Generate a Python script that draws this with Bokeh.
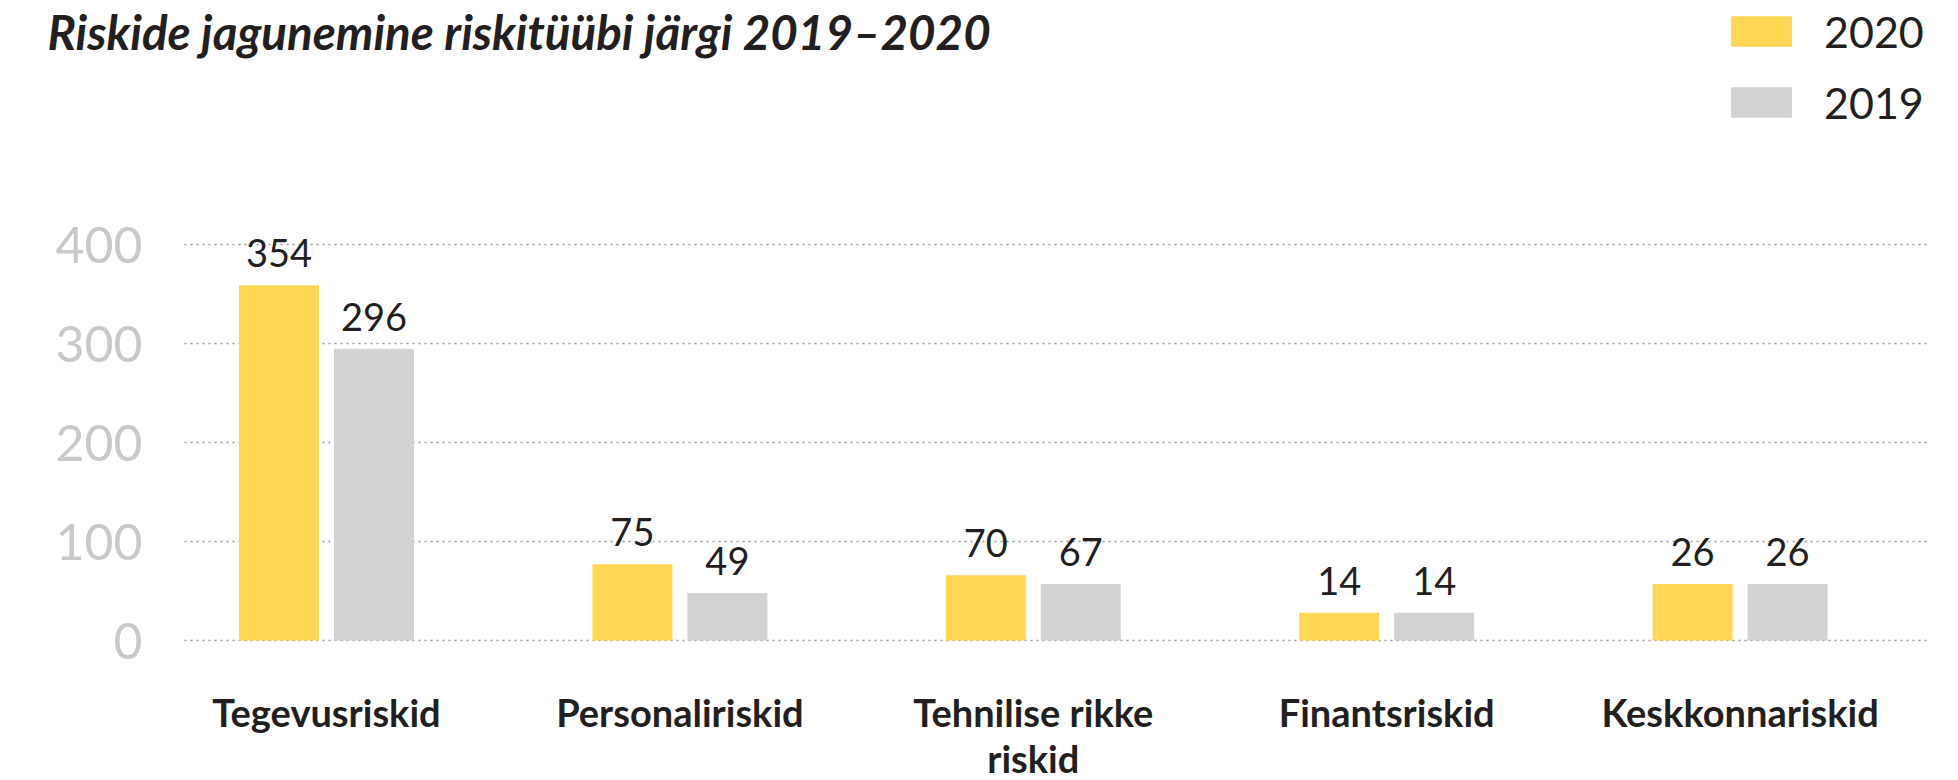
from bokeh.plotting import figure
from bokeh.models import (ColumnDataSource, Range1d, FixedTicker,
                          Label, Legend, LegendItem)
from bokeh.transform import dodge
from bokeh.core.properties import value
from bokeh.embed import file_html
from bokeh.resources import INLINE

# ---- data -------------------------------------------------------------
categories = ["Tegevusriskid", "Personaliriskid", "Tehnilise rikke\nriskid",
              "Finantsriskid", "Keskkonnariskid"]
bars_2020 = [359, 77, 66, 28, 57]          # bar heights as drawn
bars_2019 = [295, 48, 57, 28, 57]
labels_2020 = ["354", "75", "70", "14", "26"]   # printed value labels
labels_2019 = ["296", "49", "67", "14", "26"]
series = ["2020", "2019"]
y_ticks = [0, 100, 200, 300, 400]
title_text = "Riskide jagunemine riskitüübi järgi 2019–2020"

YELLOW = "#FFD655"
GREY = "#D1D2D4"
DARK = "#231F20"
FONT = "Lato"

# ---- layout constants (pixels) ---------------------------------------
W, H = 1958, 780
PX_X = 353.4            # pixels per category
PX_Y = 0.98925          # pixels per unit
ZERO_PX = 640           # screen y of the 0 line
MID_PX = 1032.8         # screen x of the middle category
X0 = 2 - MID_PX / PX_X  # data x at the left edge of the canvas


def sx2x(px):
    return X0 + px / PX_X


def sy2y(py):
    return (ZERO_PX - py) / PX_Y


xi = list(range(len(categories)))
src = ColumnDataSource(dict(xi=xi, cat=categories, v20=bars_2020, v19=bars_2019,
                            l20=labels_2020, l19=labels_2019))

p = figure(width=W, height=H,
           x_range=Range1d(sx2x(0), sx2x(W)),
           y_range=Range1d(sy2y(H), sy2y(0)),
           output_backend="svg", toolbar_location=None, min_border=0,
           min_border_left=0, min_border_right=0,
           min_border_top=0, min_border_bottom=0)
p.outline_line_color = None
p.background_fill_color = "white"
p.border_fill_color = "white"

bw = 80 / PX_X
off = 47.5 / PX_X
r20 = p.vbar(x=dodge("xi", -off), top="v20", width=bw,
             source=src, fill_color=YELLOW, line_color=None)
r19 = p.vbar(x=dodge("xi", off), top="v19", width=bw,
             source=src, fill_color=GREY, line_color=None)

p.text(x=dodge("xi", -off), y="v20", text="l20", source=src,
       text_font=value(FONT), text_font_size="38px", text_color=DARK,
       text_align="center", text_baseline="alphabetic", y_offset=-32)
p.text(x=dodge("xi", off), y="v19", text="l19", source=src,
       text_font=value(FONT), text_font_size="38px", text_color=DARK,
       text_align="center", text_baseline="alphabetic", y_offset=-32)

# title
p.add_layout(Label(x=sx2x(47), y=sy2y(31), text=title_text, text_font=FONT,
                   text_font_style="bold italic", text_font_size="47.5px",
                   text_color=DARK, text_baseline="alphabetic",
                   text_align="left"))

# legend
legend = Legend(items=[LegendItem(label=series[0], renderers=[r20]),
                       LegendItem(label=series[1], renderers=[r19])],
                location=(1723, H - 128), orientation="vertical",
                glyph_width=76, glyph_height=38, label_height=52,
                label_standoff=25, spacing=19, padding=0, margin=0,
                border_line_color=None, background_fill_alpha=0,
                label_text_font=FONT, label_text_font_size="43px",
                label_text_color=DARK)
p.add_layout(legend, "center")

# axes
p.yaxis.fixed_location = sx2x(184)
p.yaxis.ticker = FixedTicker(ticks=y_ticks)
p.yaxis.axis_line_color = None
p.yaxis.major_tick_line_color = None
p.yaxis.minor_tick_line_color = None
p.yaxis.major_tick_out = 0
p.yaxis.major_tick_in = 0
p.yaxis.major_label_text_font = FONT
p.yaxis.major_label_text_font_size = "50px"
p.yaxis.major_label_text_color = "#C9C9C9"
p.yaxis.major_label_standoff = 42

p.xaxis.fixed_location = 0
p.xaxis.ticker = FixedTicker(ticks=xi)
p.xaxis.major_label_overrides = {i: c for i, c in zip(xi, categories)}
p.xaxis.axis_line_color = None
p.xaxis.major_tick_line_color = None
p.xaxis.minor_tick_line_color = None
p.xaxis.major_tick_out = 0
p.xaxis.major_tick_in = 0
p.xaxis.major_label_text_font = FONT
p.xaxis.major_label_text_font_style = "bold"
p.xaxis.major_label_text_font_size = "38px"
p.xaxis.major_label_text_color = DARK
p.xaxis.major_label_text_line_height = 1.0
p.xaxis.major_label_standoff = 48

p.xgrid.grid_line_color = None
p.ygrid.ticker = FixedTicker(ticks=y_ticks)
p.ygrid.cross_bounds = (sx2x(184), sx2x(1930))
p.ygrid.grid_line_color = "#9A9A9A"
p.ygrid.grid_line_width = 1.6
p.ygrid.grid_line_dash = "2 4"

open("out.html", "w").write(file_html(p, INLINE))
